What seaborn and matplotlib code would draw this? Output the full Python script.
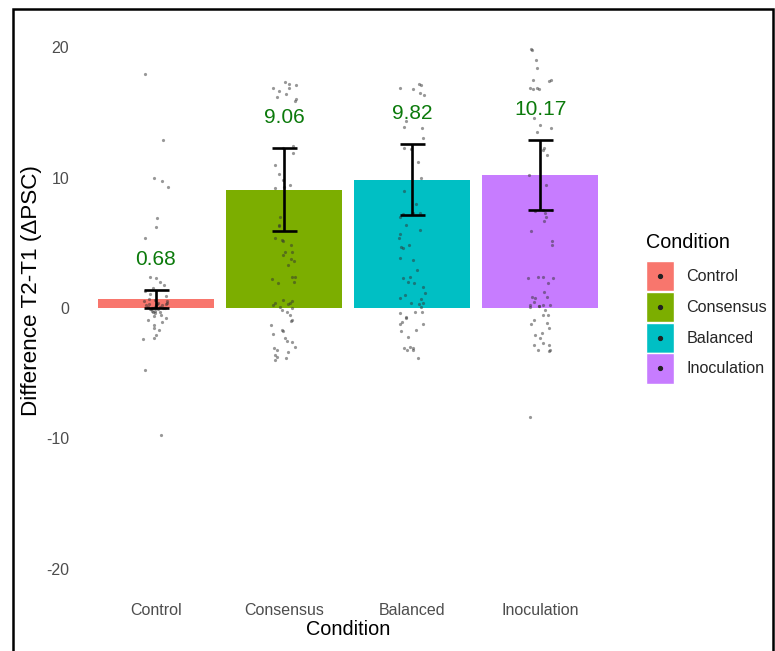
import numpy as np
import pandas as pd
import matplotlib
matplotlib.use("Agg")
import matplotlib.pyplot as plt
from matplotlib.patches import Rectangle
from matplotlib.lines import Line2D
from matplotlib.legend_handler import HandlerBase
import seaborn as sns

# ---- data -------------------------------------------------------------
conditions = ["Control", "Consensus", "Balanced", "Inoculation"]
colors = ["#F8766D", "#7CAE00", "#00BFC4", "#C77CFF"]

means = [0.68, 9.06, 9.82, 10.17]
ci_low = [0.0, 5.90, 7.15, 7.55]
ci_high = [1.38, 12.26, 12.55, 12.85]

control_pts = [17.9, 12.9, 10.0, 9.7, 9.3, 6.9, 6.2, 5.4, 2.4, 2.3, 2.0, 1.8, 1.5,
               1.3, 1.1, 0.9, 0.7, 0.6, 0.5, 0.5, 0.4, 0.4, 0.3, 0.3, 0.3, 0.2, 0.2,
               0.2, 0.1, 0.1, 0.1, 0.0, 0.0, 0.0, 0.0, 0.0, 0.0, -0.1, -0.1, -0.1,
               -0.2, -0.2, -0.3, -0.3, -0.4, -0.5, -0.6, -0.8, -0.9, -1.1, -1.3,
               -1.5, -1.7, -2.1, -2.3, -2.4, -4.75, -9.7]
consensus_pts = [17.3, 17.2, 17.1, 16.9, 16.9, 16.6, 16.4, 16.2, 16.0, 15.9, 12.4,
                 12.3, 11.9, 11.0, 10.3, 9.8, 9.4, 9.3, 9.2, 7.0, 6.4, 6.3, 5.4, 5.2,
                 5.1, 4.8, 4.3, 4.3, 4.1, 3.75, 3.6, 3.3, 2.4, 2.4, 2.2, 2.0, 1.9,
                 0.6, 0.5, 0.4, 0.4, 0.3, 0.2, 0.1, 0.0, -0.15, -0.3, -0.5, -0.9,
                 -1.0, -1.3, -1.7, -1.8, -2.0, -2.3, -2.5, -2.6, -3.0, -3.1, -3.2,
                 -3.4, -3.6, -3.75, -3.8, -4.0]
balanced_pts = [17.2, 17.1, 16.9, 16.8, 16.5, 16.3, 14.3, 13.9, 13.8, 13.0, 12.3,
                12.2, 11.2, 10.0, 9.0, 8.0, 7.3, 7.3, 7.2, 7.0, 6.4, 6.0, 5.7, 5.4,
                4.8, 4.7, 4.6, 3.8, 3.7, 2.9, 2.4, 2.3, 2.0, 1.9, 1.6, 1.15, 1.0,
                0.8, 0.7, 0.4, 0.4, 0.3, 0.1, -0.3, -0.3, -0.35, -0.7, -0.8, -1.1,
                -1.2, -1.2, -1.7, -1.8, -2.2, -3.0, -3.1, -3.1, -3.2, -3.2, -3.8]
inoculation_pts = [19.85, 19.8, 19.0, 18.4, 17.5, 17.5, 17.4, 16.9, 16.9, 16.8,
                   16.8, 14.6, 14.0, 13.8, 13.5, 12.3, 12.1, 11.7, 10.2, 9.4, 7.5,
                   7.5, 7.4, 7.3, 7.0, 6.7, 5.9, 5.1, 4.8, 2.4, 2.4, 2.3, 2.3, 1.9,
                   1.2, 0.85, 0.85, 0.8, 0.45, 0.2, 0.2, 0.2, 0.15, 0.15, 0.1,
                   -0.15, -0.5, -0.5, -0.9, -1.15, -1.2, -1.5, -1.9, -2.1, -2.3,
                   -2.7, -2.8, -2.8, -3.2, -3.2, -3.3, -8.35]

y_ticks = [-20, -10, 0, 10, 20]
label_offset = 2.35

# ---- tables -------------------------------------------------------------
summary = pd.DataFrame({"Condition": conditions, "mean": means,
                        "lo": ci_low, "hi": ci_high})
points = pd.DataFrame({
    "Condition": (["Control"] * len(control_pts) + ["Consensus"] * len(consensus_pts)
                  + ["Balanced"] * len(balanced_pts)
                  + ["Inoculation"] * len(inoculation_pts)),
    "diff": control_pts + consensus_pts + balanced_pts + inoculation_pts,
})

# ---- figure -------------------------------------------------------------
sns.set_theme(style="white")
plt.rcParams["font.family"] = ["Liberation Sans", "DejaVu Sans"]

fig = plt.figure(figsize=(7.75, 6.51), dpi=100)
ax = fig.add_axes([79 / 775, 56 / 651, 538 / 775, 574 / 651])

palette = dict(zip(conditions, colors))
sns.barplot(data=summary, x="Condition", y="mean", hue="Condition",
            order=conditions, hue_order=conditions, palette=palette,
            width=0.9, errorbar=None, saturation=1, legend=False, ax=ax,
            linewidth=0)

np.random.seed(7)
sns.stripplot(data=points, x="Condition", y="diff", order=conditions,
              color="#333333", alpha=0.5, size=2.3, jitter=0.1, linewidth=0,
              ax=ax, zorder=3)

xpos = np.arange(len(conditions))
mean_arr = np.array(means)
yerr = np.vstack([mean_arr - np.array(ci_low), np.array(ci_high) - mean_arr])
ax.errorbar(xpos, mean_arr, yerr=yerr, fmt="none", ecolor="black",
            elinewidth=1.9, capsize=9, capthick=1.9, zorder=4)

for x, m, hi in zip(xpos, means, ci_high):
    ax.text(x, hi + label_offset, f"{m:.2f}", ha="center", va="center",
            color="#0B7A0B", fontsize=15, zorder=5)

ax.set_xlim(-0.6, len(conditions) - 0.4)
ax.set_ylim(-22, 22)
ax.set_yticks(y_ticks)
ax.set_yticklabels([str(t) for t in y_ticks])
ax.tick_params(axis="both", length=0, labelsize=11.5, colors="#4D4D4D")
ax.tick_params(axis="y", pad=7)
ax.tick_params(axis="x", pad=6)
ax.set_xlabel("Condition", fontsize=14.3, color="black", labelpad=1)
ax.set_ylabel("Difference T2-T1 (ΔPSC)", fontsize=16.2, color="black")
ax.yaxis.set_label_coords(-0.069, 0.531)
for s in ax.spines.values():
    s.set_visible(False)
ax.grid(False)


class KeyHandler(HandlerBase):
    """Filled square key with a small dot in its centre."""

    def create_artists(self, legend, orig_handle, xdescent, ydescent,
                       width, height, fontsize, trans):
        rect = Rectangle((-xdescent, -ydescent), width, height,
                         facecolor=orig_handle, edgecolor="white",
                         linewidth=1.0, transform=trans)
        dot = Line2D([-xdescent + width / 2], [-ydescent + height / 2],
                     marker="o", linestyle="none", color="#222222",
                     markersize=2.8, transform=trans)
        return [rect, dot]


leg = fig.legend(colors, conditions,
                 handler_map={str: KeyHandler()},
                 loc="upper left", bbox_to_anchor=(646 / 775, 1 - 261 / 651),
                 frameon=False, fontsize=11.6,
                 handlelength=1.75, handleheight=2.49, labelspacing=0.05,
                 handletextpad=0.75, borderaxespad=0, borderpad=0)
fig.text(646 / 775, 1 - 242 / 651, "Condition", fontsize=14.2,
         ha="left", va="center", color="black")

# outer frame
fig.add_artist(Rectangle((13 / 775, -0.05), (773 - 13) / 775, 1.05 - 9 / 651,
                         transform=fig.transFigure, fill=False,
                         edgecolor="black", linewidth=1.8))

fig.savefig("out.png", dpi=100)
